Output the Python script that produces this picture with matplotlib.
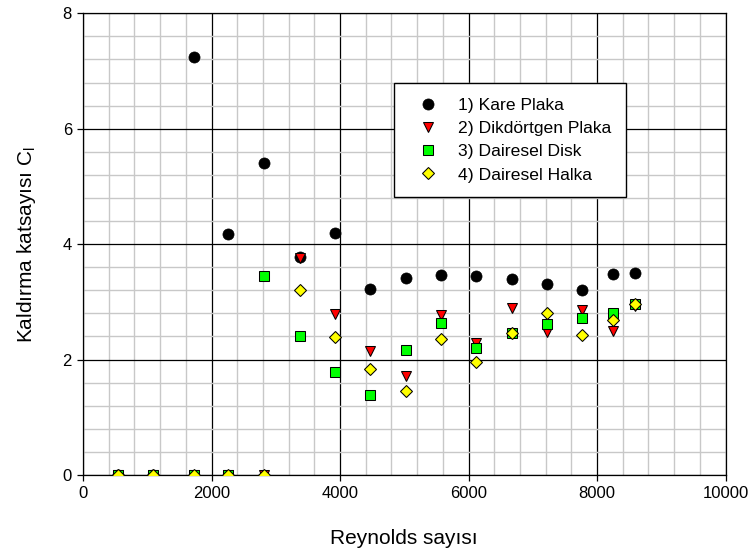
import matplotlib
matplotlib.use("Agg")
import matplotlib.pyplot as plt
from matplotlib.ticker import MultipleLocator

plt.rcParams['font.family'] = ['Liberation Sans', 'DejaVu Sans']

reynolds = [545, 1096, 1728, 2263, 2818, 3370, 3920, 4467, 5023, 5567,
            6123, 6670, 7225, 7773, 8252, 8590]
kare_plaka = [0, 0, 7.25, 4.18, 5.40, 3.78, 4.20, 3.23, 3.42, 3.47,
              3.45, 3.39, 3.31, 3.21, 3.48, 3.50]
dikdortgen_plaka = [0, 0, 0, 0, 0, 3.76, 2.79, 2.14, 1.71, 2.77,
                    2.29, 2.89, 2.47, 2.86, 2.50, 2.93]
dairesel_disk = [0, 0, 0, 0, 3.44, 2.41, 1.79, 1.38, 2.17, 2.64,
                 2.20, 2.46, 2.62, 2.72, 2.81, 2.97]
dairesel_halka = [0, 0, 0, 0, 0, 3.21, 2.39, 1.84, 1.46, 2.35,
                  1.96, 2.46, 2.80, 2.43, 2.69, 2.97]
labels = ['1) Kare Plaka', '2) Dikdörtgen Plaka', '3) Dairesel Disk', '4) Dairesel Halka']

fig = plt.figure(figsize=(7.52, 5.56), dpi=100)
ax = fig.add_axes([0.1104, 0.1457, 0.8544, 0.8304])

ax.plot(reynolds, kare_plaka, linestyle='none', marker='o', markersize=8.0,
        markerfacecolor='black', markeredgecolor='black', markeredgewidth=0.5,
        label=labels[0], zorder=3)
ax.plot(reynolds, dikdortgen_plaka, linestyle='none', marker='v', markersize=7.8,
        markerfacecolor='#ff0000', markeredgecolor='black', markeredgewidth=0.75,
        label=labels[1], zorder=4)
ax.plot(reynolds, dairesel_disk, linestyle='none', marker='s', markersize=6.9,
        markerfacecolor='#00ff00', markeredgecolor='black', markeredgewidth=0.75,
        label=labels[2], zorder=5)
ax.plot(reynolds, dairesel_halka, linestyle='none', marker='D', markersize=6.6,
        markerfacecolor='#ffff00', markeredgecolor='black', markeredgewidth=0.75,
        label=labels[3], zorder=6)

ax.set_xlim(0, 10000)
ax.set_ylim(0, 8)
ax.xaxis.set_major_locator(MultipleLocator(2000))
ax.xaxis.set_minor_locator(MultipleLocator(400))
ax.yaxis.set_major_locator(MultipleLocator(2))
ax.yaxis.set_minor_locator(MultipleLocator(0.4))
ax.grid(which='minor', color='#c8c8c8', linewidth=1.0, zorder=0)
ax.grid(which='major', color='black', linewidth=0.9, zorder=1)
ax.set_axisbelow(True)
ax.tick_params(which='major', direction='out', length=4, width=0.9, labelsize=12, pad=4)
ax.tick_params(which='minor', length=0)
for sp in ax.spines.values():
    sp.set_color('black')
    sp.set_linewidth(0.9)

ax.set_xlabel('Reynolds sayısı', fontsize=15, labelpad=20)
ax.set_ylabel('Kaldırma katsayısı C$_\\mathregular{l}$', fontsize=15, labelpad=18)

leg = ax.legend(loc='upper left', bbox_to_anchor=(0.484, 0.849), fontsize=12.6,
                frameon=True, fancybox=False, shadow=False, framealpha=1,
                edgecolor='black', borderpad=0.85, labelspacing=0.45,
                handlelength=2.2, handletextpad=0.6, borderaxespad=0)
leg.get_frame().set_linewidth(1.0)

fig.savefig('out.png', dpi=100)
